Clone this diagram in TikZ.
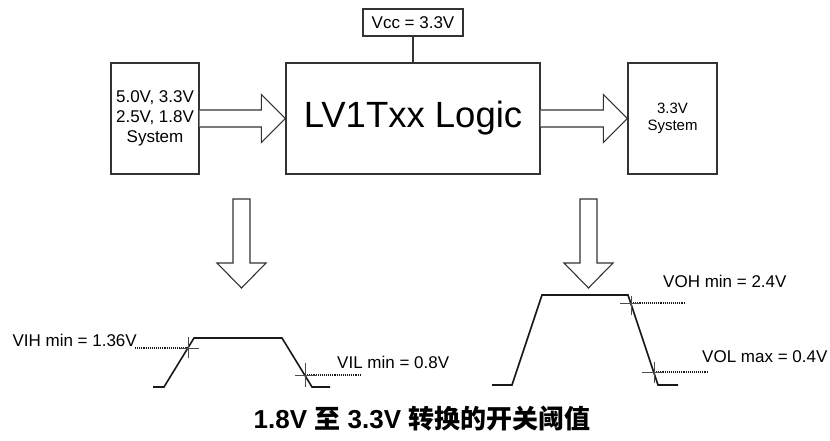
\documentclass[tikz,border=0pt]{standalone}
\usepackage{fontspec}
\setmainfont{Liberation Sans}
\newfontfamily\cjk{Noto Sans CJK SC}
\usetikzlibrary{positioning}

\begin{document}
\begin{tikzpicture}[x=1pt,y=1pt]
            \tikzstyle{box}=[rectangle, draw = black!80, line width=1.2pt, inner sep=0pt]
            \tikzstyle{hollow}=[draw = black!80, line width=1.1pt, fill=white, line join=miter]
            \tikzstyle{wave}=[draw = black!90, line width=1.6pt]
            \tikzstyle{tick}=[draw = black!70, line width=0.8pt]
            \tikzstyle{dots}=[draw = black!90, line width=1.1pt, densely dotted]
            \tikzstyle{lbl}=[inner sep=0pt, font=\fontsize{17}{20}\selectfont]
            \useasboundingbox (0,0) rectangle (830,440);
            % blocks
            \node[box, minimum width=88, minimum height=111, align=center, font=\fontsize{17}{20}\selectfont] (sys) at (155,321.5){5.0V, 3.3V\\2.5V, 1.8V\\System};
            \node[box, minimum width=254, minimum height=111, font=\fontsize{36.5}{40}\selectfont] (main) at (413,321.5){LV1Txx Logic};
            \node[box, minimum width=100, minimum height=27, font=\fontsize{17}{20}\selectfont] (vcc) at (413,417.5){Vcc = 3.3V};
            \node[box, minimum width=89, minimum height=111, align=center, font=\fontsize{15}{17}\selectfont] (out) at (672.5,321.5){3.3V\\System};
            \path[-] (vcc) edge [draw = black!80, line width=1.2pt] (main);
            % block arrows
            \path[hollow] ([yshift=-8.5]sys.east) -- ([xshift=-24,yshift=-8.5]main.west) -- ([xshift=-24,yshift=-24]main.west) -- (main.west) -- ([xshift=-24,yshift=24]main.west) -- ([xshift=-24,yshift=8.5]main.west) -- ([yshift=8.5]sys.east);
            \path[hollow] ([yshift=-8.5]main.east) -- ([xshift=-24,yshift=-8.5]out.west) -- ([xshift=-24,yshift=-24]out.west) -- (out.west) -- ([xshift=-24,yshift=24]out.west) -- ([xshift=-24,yshift=8.5]out.west) -- ([yshift=8.5]main.east);
            \coordinate (inTop) at (241.5,241);
            \coordinate (inTip) at (241.5,152);
            \coordinate (outTop) at (588.5,241);
            \coordinate (outTip) at (588.5,152);
            \path[hollow] ([xshift=-8.5]inTop) -- ([xshift=-8.5,yshift=25]inTip) -- ([xshift=-24.5,yshift=25]inTip) -- (inTip) -- ([xshift=24.5,yshift=25]inTip) -- ([xshift=8.5,yshift=25]inTip) -- ([xshift=8.5]inTop) -- cycle;
            \path[hollow] ([xshift=-8.5]outTop) -- ([xshift=-8.5,yshift=25]outTip) -- ([xshift=-24.5,yshift=25]outTip) -- (outTip) -- ([xshift=24.5,yshift=25]outTip) -- ([xshift=8.5,yshift=25]outTip) -- ([xshift=8.5]outTop) -- cycle;
            % input thresholds
            \draw[wave] (153,53) -- (164,53) -- (194,102) -- (282,102) -- (312,53) -- (330,53);
            \draw[dots] (135,92) -- (188,92);
            \draw[dots] (305,65) -- (360,65);
            \draw[tick] (180,92) -- (199,92) (188,103) -- (188,82);
            \draw[tick] (295,65) -- (317,65) (305,77) -- (305,53);
            \node[lbl, anchor=east] (vih) at (137,100){VIH min = 1.36V};
            \node[lbl, anchor=west] (vil) at (337,78){VIL min = 0.8V};
            % output thresholds
            \draw[wave] (492,55) -- (512,55) -- (542,145) -- (628,145) -- (658,55) -- (678,55);
            \draw[dots] (631,137) -- (684,137);
            \draw[dots] (654,68) -- (707,68);
            \draw[tick] (620,137) -- (640,137) (631,144) -- (631,125);
            \draw[tick] (642,68) -- (663,68) (654,78) -- (654,57);
            \node[lbl, anchor=west] (voh) at (663,159){VOH min = 2.4V};
            \node[lbl, anchor=west] (vol) at (702,83.5){VOL max = 0.4V};
            % caption
            \node[inner sep=0pt, anchor=base, font=\fontsize{26}{29}\selectfont\bfseries] (title) at (422,12){1.8V {\cjk 至} 3.3V {\cjk 转换的开关阈值}};
        \end{tikzpicture}
\end{document}
